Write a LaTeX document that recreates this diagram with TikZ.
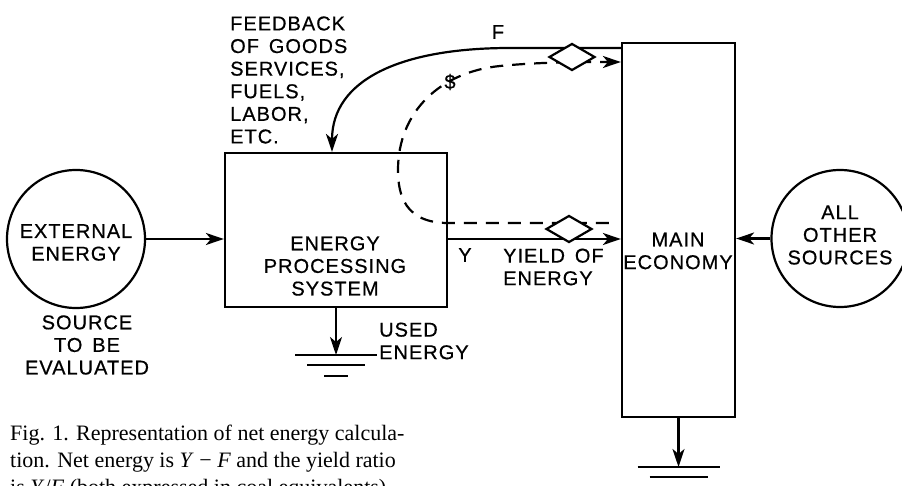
\documentclass[tikz,border=0pt]{standalone}
\usepackage{fontspec}
\setmainfont{Liberation Serif}
\setsansfont{Liberation Sans}[LetterSpace=5,FakeBold=0.6]
\usetikzlibrary{arrows.meta,calc,positioning,shapes.geometric}
\tikzset{
         lbl/.style={font=\sffamily\fontsize{20}{22.6}\selectfont,inner sep=0pt},
         box/.style={draw,line width=2.2pt,rectangle,inner sep=0pt},
         src/.style={draw,line width=2.2pt,circle,inner sep=0pt},
         flow/.style={line width=2.2pt,-{Stealth[length=18pt,width=12pt,inset=5pt]}},
         money/.style={flow,dash pattern=on 13pt off 9pt},
         trade/.style={draw,line width=2.2pt,diamond,minimum width=46pt,minimum height=27pt,inner sep=0pt,fill=white},
         heatsink/.pic={
             \draw[line width=2.2pt](-41,0)--(41,0);
             \draw[line width=2.2pt](-29,10)--(29,10);
             \draw[line width=2.2pt](-12,21)--(12,21);
            }
        }
\begin{document}
\begin{tikzpicture}[x=1pt,y=-1pt]
\useasboundingbox(0,0)rectangle(902,486);
%sources and boxes
\node[src,minimum size=138pt](ext)at(76,239){};
\node[src,minimum size=137pt](other)at(840,238.5){};
\node[box,minimum width=222pt,minimum height=154pt](proc)at(336,230){};
\node[box,minimum width=113pt,minimum height=374pt](main)at(678.5,230){};
%rows of the connectors
\coordinate(frow)at(0,48);
\coordinate(trow)at(0,62);
\coordinate(drow)at(0,223);
\coordinate(yrow)at(0,239);
\coordinate(gproc)at(336,355);
\coordinate(gmain)at(678.5,467);
%energy and money flows
\draw[flow](ext.east)--(ext.east-|proc.west);
\draw[flow](other.west)--(other.west-|main.east);
\draw[flow](proc.east|-yrow)--(main.west|-yrow);
\draw[flow](main.west|-frow)--(510,48)..controls(400,48)and(332,80)..([xshift=-4pt]proc.north);
\draw[money]([xshift=-12pt]main.west|-drow)--(proc.east|-drow)
   ..controls(405,223)and(398,195)..(398,170)
   ..controls(398,112)and(440,72)..(500,66)
   ..controls(540,62)and(580,62)..(main.west|-trow);
\draw[flow](proc.south)--(gproc);
\draw[flow](main.south)--(gmain);
\pic at(gproc){heatsink};
\pic at(gmain){heatsink};
%transactions
\node[trade](tf)at(572,57){};
\node[trade](ty)at(569,229){};
%labels
\node[lbl,align=center]at(76,242.5){EXTERNAL\\ENERGY};
\node[lbl,align=center]at(87,345){SOURCE\\TO\, BE\\EVALUATED};
\node[lbl,align=center]at(335,266){ENERGY\\PROCESSING\\SYSTEM};
\node[lbl,align=center]at(678,251){MAIN\\ECONOMY};
\node[lbl,align=center]at(840,235){ALL\\OTHER\\SOURCES};
\node[lbl,align=left,anchor=west]at(230,80){FEEDBACK\\OF\, GOODS\\SERVICES,\\FUELS,\\LABOR,\\ETC.};
\node[lbl]at(498,32){F};
\node[lbl]at(450,82){\$};
\node[lbl]at(465,255){Y};
\node[lbl,align=left,anchor=west]at(503,267){YIELD\, OF\\ENERGY};
\node[lbl,align=left,anchor=west]at(379,341){USED\\ENERGY};
%caption
\node[font=\fontsize{22}{27}\selectfont,align=left,anchor=north west,inner sep=0pt]at(10,425)
   {Fig. 1. Representation of net energy calcula-\\
    tion. Net energy is \textit{Y} − \textit{F} and the yield ratio\\
    is \textit{Y}/\textit{F} (both expressed in coal equivalents).};
\end{tikzpicture}
\end{document}
